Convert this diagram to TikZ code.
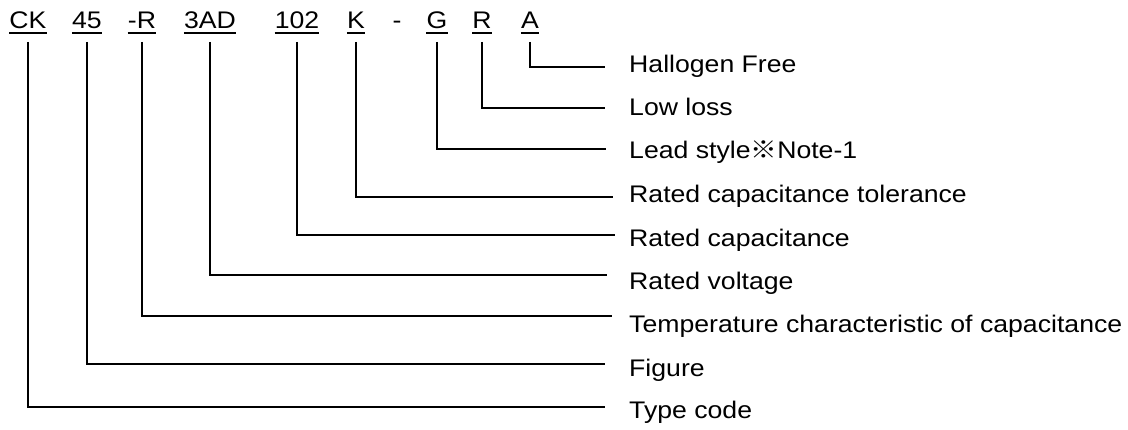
\documentclass[tikz,border=0pt]{standalone}
\usepackage{fontspec}
\setmainfont[FakeStretch=1.11]{Liberation Sans}
\newfontfamily\cjk[FakeStretch=1.11]{Noto Sans CJK JP}
\begin{document}
\begin{tikzpicture}[x=1pt,y=-1pt,
  txt/.style={inner sep=0pt, font=\fontsize{24}{28}\selectfont},
  code/.style={txt, anchor=base},
  desc/.style={txt, anchor=base west},
  lead/.style={line width=1.3pt},
  uline/.style={line width=1.4pt}]
\useasboundingbox (0,0) rectangle (1128,430);

% part-number segments
\node[code] (ck)   at (28,29)  {CK};
\node[code] (c45)  at (87,29)  {45};
\node[code] (cr)   at (142,29) {-R};
\node[code] (c3ad) at (210,29) {3AD};
\node[code] (c102) at (297,29) {102};
\node[code] (ck2)  at (356,29) {K};
\node[code] (dash) at (397,29) {-};
\node[code] (cg)   at (437,29) {G};
\node[code] (crr)  at (482,29) {R};
\node[code] (ca)   at (530,29) {A};

\foreach \n in {ck,c45,cr,c3ad,c102,ck2,cg,crr,ca}
  \draw[uline] ([yshift=-4pt]\n.base west) -- ([yshift=-4pt]\n.base east);

% descriptions
\node[desc] (dA)   at (629,73)  {Hallogen Free};
\node[desc] (dR)   at (629,116) {Low loss};
\node[desc] (dG)   at (629,159) {Lead style{\cjk ※}Note-1};
\node[desc] (dK)   at (629,203) {Rated capacitance tolerance};
\node[desc] (d102) at (629,247) {Rated capacitance};
\node[desc] (d3ad) at (629,290) {Rated voltage};
\node[desc] (dr)   at (629,333) {Temperature characteristic of capacitance};
\node[desc] (d45)  at (629,377) {Figure};
\node[desc] (dck)  at (629,418) {Type code};

% leader line ends
\coordinate (eA)   at (605,67);
\coordinate (eR)   at (605,108);
\coordinate (eG)   at (606,149);
\coordinate (eK)   at (613,197);
\coordinate (e102) at (615,235);
\coordinate (e3ad) at (607,275);
\coordinate (er)   at (612,316);
\coordinate (e45)  at (605,364);
\coordinate (eck)  at (605,407);

% leaders
\foreach \c/\e in {ca/eA,crr/eR,cg/eG,ck2/eK,c102/e102,c3ad/e3ad,cr/er,c45/e45,ck/eck}
  \draw[lead] ([yshift=-13pt]\c.base) |- (\e);
\end{tikzpicture}
\end{document}
